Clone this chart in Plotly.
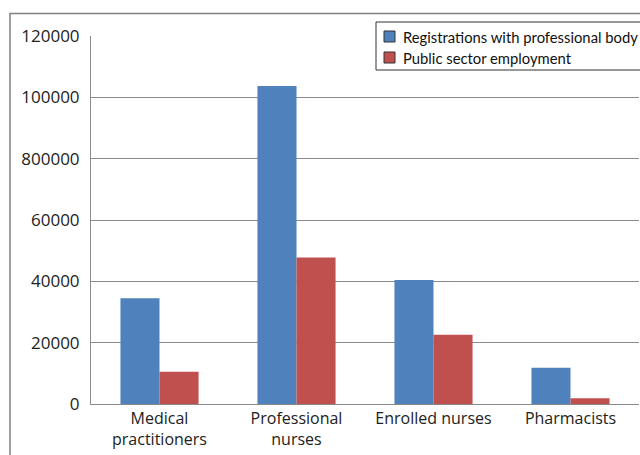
import plotly.graph_objects as go

categories = ["Medical<br>practitioners", "Professional<br>nurses", "Enrolled nurses", "Pharmacists"]
registrations = [34500, 103700, 40400, 11800]
public_sector = [10500, 47800, 22600, 1900]
series_names = ["Registrations with professional body", "Public sector employment"]
series_colors = ["#4F81BD", "#C0504D"]
tick_values = [0, 20000, 40000, 60000, 80000, 100000, 120000]
tick_labels = ["0", "20000", "40000", "60000", "800000", "100000", "120000"]

FW, FH = 640, 455
# plot area geometry (page px): x 91..639, y 36..404
L, T, W, H = 91, 36, 548, 368
def px(x):
    return (x - L) / W
def py(y):
    return (T + H - y) / H

fig = go.Figure()
for vals, name, col in zip([registrations, public_sector], series_names, series_colors):
    fig.add_trace(go.Bar(x=categories, y=vals, name=name,
                         marker=dict(color=col, line=dict(width=0))))

shapes = [
    dict(type="rect", xref="paper", yref="paper",
         x0=px(10), x1=1.3, y0=-0.3, y1=py(13.5),
         line=dict(color="#808080", width=1.5), layer="below"),
    # legend box
    dict(type="rect", xref="paper", yref="paper",
         x0=px(376), x1=1.3, y0=py(70), y1=py(22),
         line=dict(color="#333333", width=1), fillcolor="white", layer="above"),
]
annotations = []
for i, (name, col) in enumerate(zip(series_names, series_colors)):
    top = 31 + 21 * i
    shapes.append(dict(type="rect", xref="paper", yref="paper",
                       x0=px(384), x1=px(395), y0=py(top + 11), y1=py(top),
                       line=dict(color="#333333", width=1), fillcolor=col, layer="above"))
    annotations.append(dict(xref="paper", yref="paper", x=px(401), y=py(top + 5.5),
                            xanchor="left", yanchor="middle", showarrow=False,
                            text=name, font=dict(family="Lato", size=14.8, color="#111111")))

fig.update_layout(
    width=FW, height=FH,
    margin=dict(l=L, r=FW - L - W, t=T, b=FH - T - H, autoexpand=False),
    paper_bgcolor="white", plot_bgcolor="white",
    barmode="group", bargap=0.43, bargroupgap=0,
    font=dict(family="Open Sans", size=16, color="#222222"),
    showlegend=False,
    xaxis=dict(showline=True, linecolor="#8a8a8a", linewidth=1, ticks="",
               tickfont=dict(size=16), fixedrange=True),
    yaxis=dict(range=[0, 120000], tickvals=tick_values, ticktext=tick_labels,
               showgrid=True, gridcolor="#8a8a8a", gridwidth=1,
               showline=True, linecolor="#8a8a8a", linewidth=1,
               ticks="outside", ticklen=7, tickcolor="rgba(0,0,0,0)",
               tickfont=dict(size=17), zeroline=False),
    shapes=shapes,
    annotations=annotations,
)

fig.write_html("out.html", config={"displayModeBar": False},
               post_script="document.body.style.margin='0';document.body.style.overflow='hidden';")
